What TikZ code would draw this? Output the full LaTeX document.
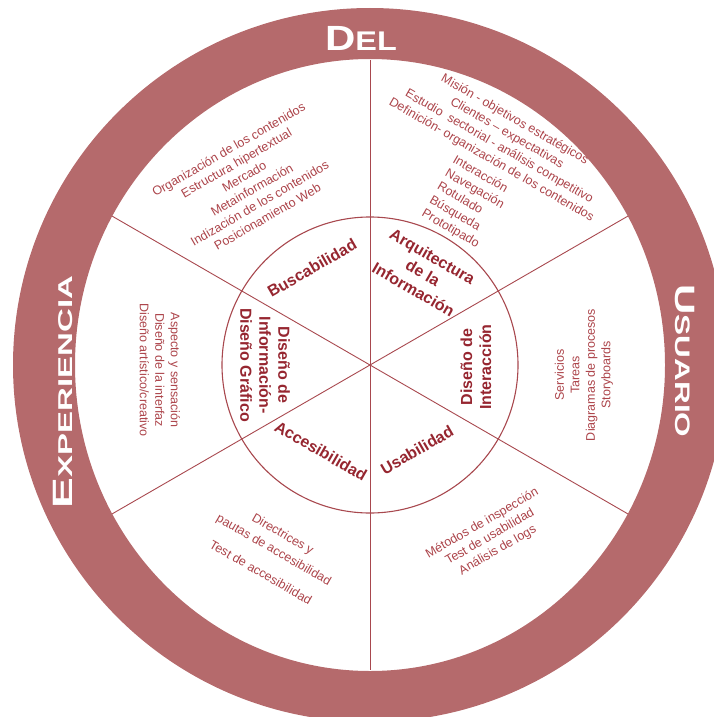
\documentclass[tikz,border=0pt]{standalone}
\usepackage{fontspec}
\setmainfont{Liberation Sans}
\usepackage{graphicx}
\usepackage{xcolor}
\usetikzlibrary{calc}

\definecolor{ringcol}{RGB}{181,106,108}
\definecolor{linecol}{RGB}{168,72,78}
\definecolor{txtcol}{RGB}{172,68,74}
\definecolor{boldcol}{RGB}{150,38,48}

\begin{document}
\begin{tikzpicture}[
  x=1pt, y=-1pt,
  sep/.style={draw=linecol, line width=0.9pt},
  item/.style={text=txtcol, align=center, inner sep=0pt,
    font=\fontsize{12.5}{15.5}\selectfont},
  area/.style={text=boldcol, align=center, inner sep=0pt,
    font=\bfseries\fontsize{16}{19}\selectfont},
  ringlbl/.style={text=white, inner sep=0pt, font=\bfseries}
]
\clip (0,0) rectangle (714,717);
\coordinate (c) at (370,365);

% Sector lines and inner circle
\foreach \a [count=\i] in {30,90,150,210,270,330}
  \coordinate (edge\i) at ($(c)+(\a:305)$);
\foreach \i in {1,...,6}
  \draw[sep] (c) -- (edge\i);
\draw[draw=linecol, line width=1.1pt] (c) circle[radius=148pt];

% Outer ring
\fill[ringcol, even odd rule] (c) circle[radius=357pt]
  (c) ellipse[x radius=295pt, y radius=306pt];

% Ring labels
\node[ringlbl, anchor=base] (r-del) at (361,51)
  {\scalebox{1.2}[1]{{\fontsize{35}{35}\selectfont D}{\fontsize{27}{27}\selectfont EL}}};
\node[ringlbl, anchor=base, rotate=-90] (r-usuario) at (675,361)
  {\scalebox{1.5}[1]{{\fontsize{28}{28}\selectfont U}{\fontsize{21}{21}\selectfont SUARIO}}};
\node[ringlbl, anchor=base, rotate=90] (r-experiencia) at (72,392)
  {\scalebox{1.65}[1]{{\fontsize{28}{28}\selectfont E}{\fontsize{20}{20}\selectfont XPERIENCIA}}};

% Inner areas
\node[area, rotate=30] (n-busca) at (312,268) {Buscabilidad};
\node[area, rotate=-30] (n-arq) at (423,273) {Arquitectura\\de la\\Información};
\node[area, rotate=90] (n-inter) at (476,367) {Diseño de\\Interacción};
\node[area, rotate=30] (n-usab) at (417,450) {Usabilidad};
\node[area, rotate=-30] (n-acces) at (321,451) {Accesibilidad};
\node[area, rotate=-90] (n-grafico) at (265,365) {Diseño de\\Información-\\Diseño Gráfico};

% Outer sector items
\node[item, rotate=30] (t-busca) at (248,183)
  {Organización de los contenidos\\Estructura hipertextual\\Mercado\\Metainformación\\
   Indización de los contenidos\\Posicionamiento Web};
\node[item, rotate=-30] (t-arq1) at (503,140)
  {Misión - objetivos estratégicos\\Clientes – expectativas\\
   Estudio \ sectorial - análisis competitivo\\Definición- organización de los contenidos};
\node[item, rotate=-30, anchor=west, align=left] (t-arq2) at (438,186)
  {Interacción\\Navegación\\Rotulado\\Búsqueda\\Prototipado};
\node[item, rotate=-90] (t-grafico) at (160,370)
  {Aspecto y sensación\\Diseño de la interfaz\\Diseño artístico/creativo};
\node[item, rotate=90] (t-inter) at (584,375)
  {Servicios\\Tareas\\Diagramas de procesos\\Storyboards};
\node[item, rotate=-30] (t-acces) at (272,553)
  {Directrices y\\[2.5pt]pautas de accesibilidad\\[11pt]Test de accesibilidad};
\node[item, rotate=30] (t-usab) at (490,537)
  {Métodos de inspección\\Test de usabilidad\\Análisis de logs};

\end{tikzpicture}
\end{document}
